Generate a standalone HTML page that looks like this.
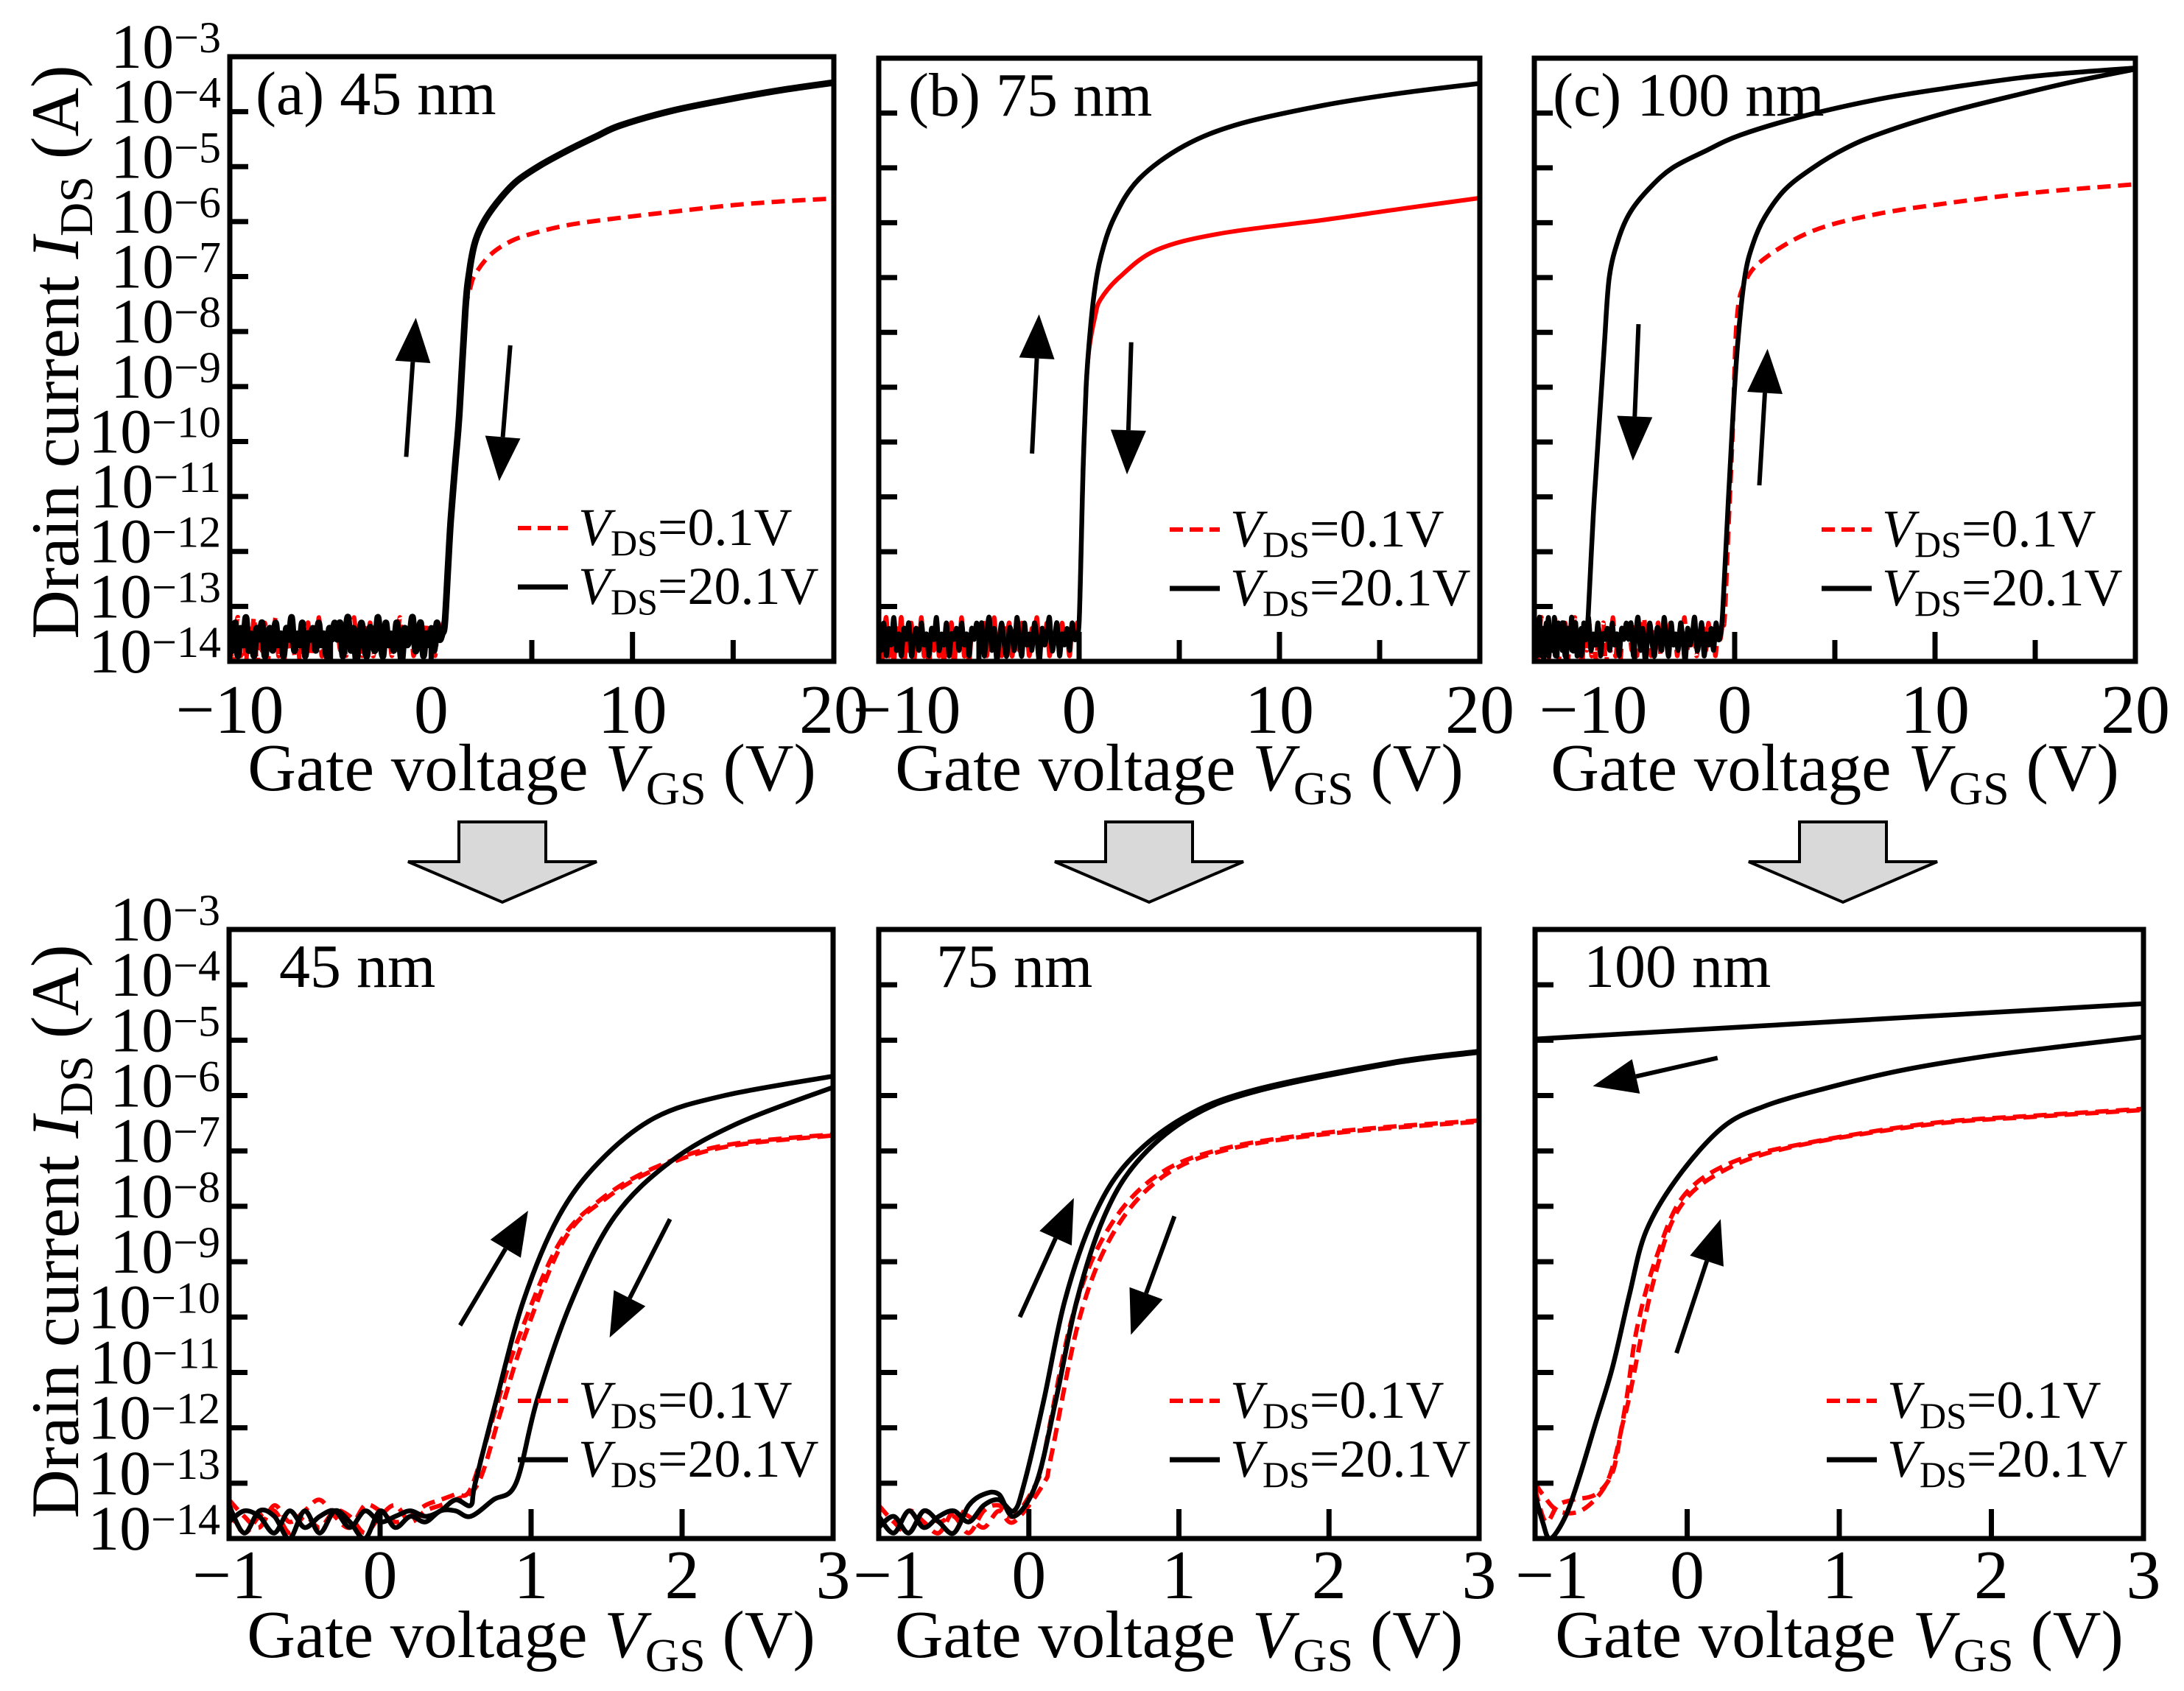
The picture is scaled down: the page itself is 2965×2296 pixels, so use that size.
<!DOCTYPE html>
<html><head><meta charset="utf-8"><style>
html,body{margin:0;padding:0;background:#fff;}
svg{display:block;font-family:"Liberation Serif","Times New Roman",serif;}
</style></head><body>
<svg id="fig" width="2965" height="2296" viewBox="0 0 2965 2296" xmlns="http://www.w3.org/2000/svg">
<defs id="defs"></defs>
<g id="root"></g>
</svg>
<script>
// ---------- data (log10 of drain current vs gate voltage) ----------
const decadeTicks = [-3,-4,-5,-6,-7,-8,-9,-10,-11,-12,-13,-14];
const topXTicks = [-10,0,10,20];
const topXMinor = [-5,5,15];
const botXTicks = [-1,0,1,2,3];

const noiseA = [-13.5,-13.8,-13.3,-13.9,-13.4,-13.7,-13.2,-13.8,-13.5,-13.9,-13.4,-13.6,-13.3,-13.9,-13.6,-13.4,-13.8,-13.3,-13.7,-13.5,-13.9,-13.4,-13.6,-13.2,-13.8,-13.5,-13.7,-13.3,-13.9,-13.5,-13.6,-13.4,-13.8,-13.3,-13.7,-13.5,-13.9,-13.4,-13.6,-13.3];
const noiseB = [-13.3,-14.1,-13.6,-13.2,-13.9,-13.5,-14.0,-13.4,-13.7,-13.2,-14.1,-13.6,-13.8,-13.3,-14.0,-13.5,-13.7,-13.2,-13.9,-13.6,-14.1,-13.4,-13.8,-13.3,-13.9,-13.6,-14.0,-13.4,-13.7,-13.3,-14.1,-13.5,-13.8,-13.2,-13.9,-13.6,-14.0,-13.5,-13.6,-13.4];
const noiseC = [-13.6,-13.3,-13.9,-13.5,-13.2,-13.8,-13.4,-14.0,-13.6,-13.3,-13.7,-13.9,-13.4,-13.5,-13.8,-13.2,-13.6,-13.9,-13.3,-13.7,-13.5,-13.8,-13.3,-13.6,-14.0,-13.4,-13.7,-13.5,-13.2,-13.8,-13.6,-13.3,-13.9,-13.5,-13.7,-13.4,-13.8,-13.3,-13.6,-13.5];

// top (a) 45 nm
const aTopBlackX = [0.68,0.85,0.98,1.2,1.4,1.7,1.9,2.2,2.7,3.5,4.3,5.45,6.8,8.2,9.4,12,15,17.5,20];
const aTopBlackY = [-13.3,-12.2,-11.4,-10.4,-9.5,-7.6,-6.9,-6.35,-5.95,-5.55,-5.25,-4.97,-4.7,-4.45,-4.25,-3.98,-3.76,-3.6,-3.47];
const aTopRedX = [0.7,0.9,1.2,1.4,1.7,1.95,2.2,2.95,4,5.2,7,9.4,12,15,17.5,20];
const aTopRedY = [-13.3,-12.0,-10.4,-9.5,-7.7,-7.2,-6.95,-6.6,-6.35,-6.2,-6.05,-5.93,-5.82,-5.7,-5.63,-5.58];
// top (b) 75 nm
const bTopBlackX = [0.0,0.1,0.2,0.35,0.5,0.75,1.1,1.76,3,5.24,8,12.2,16,20];
const bTopBlackY = [-13.3,-12,-10.5,-9,-8.2,-7.3,-6.6,-5.9,-5.2,-4.6,-4.2,-3.86,-3.64,-3.46];
const bTopRedX = [0.0,0.1,0.2,0.35,0.5,0.8,1.07,2,3.85,7,12.2,16,20];
const bTopRedY = [-13.3,-12,-10.5,-9,-8.3,-7.7,-7.4,-7.0,-6.5,-6.2,-5.95,-5.75,-5.55];
// top (c) 100 nm
const cTopBackX = [-7.3,-7.05,-6.75,-6.5,-6.26,-5.8,-5.2,-4.2,-3.1,-1.5,0.3,3.5,7.3,10.5,14.2,17,20];
const cTopBackY = [-13.1,-11.3,-9.6,-8.2,-7.0,-6.3,-5.8,-5.35,-5.0,-4.7,-4.4,-4.05,-3.74,-3.55,-3.36,-3.26,-3.18];
const cTopFwdX = [-0.6,-0.35,-0.1,0.15,0.5,0.9,1.5,2.5,3.9,5.5,7.3,10.5,14.2,17,20];
const cTopFwdY = [-13.1,-11.3,-9.6,-8.2,-7.0,-6.4,-5.9,-5.4,-5.0,-4.65,-4.37,-4.0,-3.66,-3.42,-3.2];
const cTopRedX = [-0.5,-0.3,-0.1,0.1,0.5,1.5,3.9,7,10.7,15,20];
const cTopRedY = [-13.2,-11.5,-9.8,-7.8,-7.1,-6.65,-6.15,-5.85,-5.64,-5.45,-5.3];

// bottom (a) 45 nm
const aBotBlack1X = [-1,-0.9,-0.8,-0.7,-0.6,-0.5,-0.4,-0.3,-0.2,-0.1,0,0.1,0.2,0.3,0.4,0.5,0.6,0.63,0.77,0.95,1.18,1.45,1.82,2.28,3];
const aBotBlack1Y = [-13.7,-13.5,-13.6,-13.9,-13.5,-13.8,-13.6,-13.5,-13.8,-13.5,-13.7,-13.6,-13.5,-13.6,-13.5,-13.3,-13.4,-13.0,-11.5,-9.7,-8.2,-7.2,-6.4,-6.0,-5.65];
const aBotBlack2X = [-1,-0.9,-0.8,-0.7,-0.6,-0.5,-0.4,-0.3,-0.2,-0.1,0,0.1,0.2,0.3,0.4,0.5,0.6,0.75,0.9,1.04,1.27,1.55,1.92,2.37,3];
const aBotBlack2Y = [-13.4,-13.9,-13.5,-13.6,-14,-13.5,-13.9,-13.5,-13.7,-14,-13.5,-13.8,-13.6,-13.7,-13.5,-13.5,-13.6,-13.3,-13.0,-11.5,-9.7,-8.2,-7.2,-6.5,-5.85];
const aBotRed1X = [-1,-0.9,-0.8,-0.7,-0.6,-0.5,-0.4,-0.3,-0.2,-0.1,0,0.1,0.2,0.3,0.4,0.5,0.6,0.75,0.9,1.18,1.45,1.82,2.28,3];
const aBotRed1Y = [-13.3,-13.6,-13.8,-13.4,-13.7,-13.5,-13.3,-13.6,-13.8,-13.4,-13.5,-13.7,-13.6,-13.4,-13.3,-13.2,-13.1,-11.8,-10.5,-8.7,-7.9,-7.3,-6.9,-6.7];
const aBotRed2X = [-1,-0.9,-0.8,-0.7,-0.6,-0.5,-0.4,-0.3,-0.2,-0.1,0,0.1,0.2,0.3,0.4,0.5,0.65,0.8,0.95,1.22,1.5,1.85,2.3,3];
const aBotRed2Y = [-13.5,-13.9,-13.6,-13.5,-13.9,-13.6,-13.8,-13.5,-13.6,-13.9,-13.6,-13.4,-13.7,-13.5,-13.4,-13.3,-13.0,-11.7,-10.4,-8.6,-7.85,-7.3,-6.92,-6.72];
// bottom (b) 75 nm
const bBotBlack1X = [-1,-0.9,-0.8,-0.7,-0.6,-0.5,-0.4,-0.3,-0.2,-0.1,-0.03,0.1,0.24,0.43,0.66,1.03,1.5,2.42,3];
const bBotBlack1Y = [-13.6,-13.9,-13.5,-13.8,-13.6,-13.5,-13.7,-13.4,-13.3,-13.5,-13.0,-11.5,-9.7,-8.2,-7.2,-6.4,-5.9,-5.4,-5.2];
const bBotBlack2X = [-1,-0.9,-0.8,-0.7,-0.6,-0.5,-0.4,-0.3,-0.2,-0.1,0.05,0.18,0.32,0.5,0.72,1.07,1.52,2.42,3];
const bBotBlack2Y = [-13.8,-13.6,-13.9,-13.5,-13.7,-13.9,-13.4,-13.2,-13.2,-13.6,-13.0,-11.5,-9.7,-8.2,-7.2,-6.4,-5.92,-5.42,-5.22];
const bBotRed1X = [-1,-0.9,-0.8,-0.7,-0.6,-0.5,-0.4,-0.3,-0.2,-0.1,0.05,0.1,0.29,0.52,0.85,1.31,2.05,3];
const bBotRed1Y = [-13.4,-13.7,-13.9,-13.5,-13.7,-13.6,-13.9,-13.5,-13.4,-13.6,-13.0,-12.5,-10,-8.45,-7.45,-6.95,-6.65,-6.45];
const bBotRed2X = [-1,-0.9,-0.8,-0.7,-0.6,-0.5,-0.4,-0.3,-0.2,-0.1,0.1,0.15,0.34,0.57,0.9,1.36,2.1,3];
const bBotRed2Y = [-13.6,-13.9,-13.5,-13.7,-13.9,-13.5,-13.6,-13.8,-13.5,-13.7,-13.0,-12.5,-10,-8.45,-7.45,-6.95,-6.66,-6.47];
// bottom (c) 100 nm
const cBotBackX = [-1,0,1,2,3];
const cBotBackY = [-4.98,-4.82,-4.66,-4.5,-4.34];
const cBotFwdX = [-1,-0.95,-0.9,-0.8,-0.71,-0.6,-0.49,-0.38,-0.27,-0.06,0.23,0.5,0.88,1.4,1.96,2.5,3];
const cBotFwdY = [-13.2,-13.7,-14.0,-13.6,-12.9,-11.9,-10.9,-9.6,-8.45,-7.47,-6.58,-6.2,-5.89,-5.55,-5.29,-5.1,-4.94];
const cBotRed1X = [-1,-0.93,-0.85,-0.75,-0.6,-0.49,-0.43,-0.38,-0.23,-0.06,0.23,0.7,1.6,2.3,3];
const cBotRed1Y = [-13.1,-13.7,-13.4,-13.3,-13.2,-12.8,-12.0,-11.44,-9.45,-8.07,-7.37,-6.92,-6.52,-6.38,-6.26];
const cBotRed2X = [-1,-0.95,-0.85,-0.7,-0.55,-0.47,-0.4,-0.33,-0.2,-0.02,0.3,0.8,1.6,2.3,3];
const cBotRed2Y = [-13.0,-13.2,-13.5,-13.5,-13.1,-12.5,-11.5,-10.2,-8.9,-7.8,-7.2,-6.85,-6.5,-6.36,-6.24];

// ---------- rendering ----------
const NS = "http://www.w3.org/2000/svg";
const root = document.getElementById('root');
const defs = document.getElementById('defs');
function mk(tag, attrs, parent){ const e=document.createElementNS(NS,tag); for(const k in attrs) e.setAttribute(k,attrs[k]); (parent||root).appendChild(e); return e; }
function seq(a,b,n){ const r=[]; for(let i=0;i<n;i++) r.push(a+(b-a)*i/(n-1)); return r; }

const panels = [
 {id:'top-a', L:312,T:77,R:1132,B:898, x0:-10,x1:20, title:'(a) 45 nm', tdx:35, ylab:true, top:true, lx:703},
 {id:'top-b', L:1193,T:79,R:2009,B:898, x0:-10,x1:20, title:'(b) 75 nm', tdx:40, ylab:false, top:true, lx:1588, l0:38},
 {id:'top-c', L:2083,T:79,R:2899,B:898, x0:-10,x1:20, title:'(c) 100 nm', tdx:25, ylab:false, top:true, lx:2473, l0:80},
 {id:'bot-a', L:311,T:1262,R:1131,B:2089, x0:-1,x1:3, title:'45 nm', tdx:68, ylab:true, top:false, lx:703},
 {id:'bot-b', L:1193,T:1262,R:2008,B:2089, x0:-1,x1:3, title:'75 nm', tdx:78, ylab:false, top:false, lx:1588, l0:15},
 {id:'bot-c', L:2084,T:1262,R:2910,B:2089, x0:-1,x1:3, title:'100 nm', tdx:66, ylab:false, top:false, lx:2480, l0:23},
];
panels.forEach(p=>{
  p.x = v => p.L + (v-p.x0)/(p.x1-p.x0)*(p.R-p.L);
  p.y = d => p.T + (-3-d)/11*(p.B-p.T);
});

function pathFrom(p, xs, ys){
  const pts = xs.map((v,i)=>[p.x(v), p.y(ys[i])]);
  let d = 'M'+pts[0][0].toFixed(1)+','+pts[0][1].toFixed(1);
  for(let i=0;i<pts.length-1;i++){
    const p0=pts[Math.max(0,i-1)], p1=pts[i], p2=pts[i+1], p3=pts[Math.min(pts.length-1,i+2)];
    const c1=[p1[0]+(p2[0]-p0[0])/6, p1[1]+(p2[1]-p0[1])/6];
    const c2=[p2[0]-(p3[0]-p1[0])/6, p2[1]-(p3[1]-p1[1])/6];
    d+=' C'+c1[0].toFixed(1)+','+c1[1].toFixed(1)+' '+c2[0].toFixed(1)+','+c2[1].toFixed(1)+' '+p2[0].toFixed(1)+','+p2[1].toFixed(1);
  }
  return d;
}
function withNoise(noise, a, b, xs, ys){ return [seq(a,b,noise.length).concat(xs), noise.concat(ys)]; }
const noiseDense = noiseA.concat(noiseC);
const noiseDenseR = noiseB.concat(noiseA);

const series = {
 'top-a':[
   {n:'red-vds-0.1', d:withNoise(noiseDenseR,-10,0.6,aTopRedX,aTopRedY), red:true},
   {n:'black-vds-20.1', d:withNoise(noiseDense,-10,0.55,aTopBlackX,aTopBlackY), red:false, w:9}],
 'top-b':[
   {n:'red-vds-0.1', d:withNoise(noiseDenseR,-10,-0.1,bTopRedX,bTopRedY), red:true, solid:true},
   {n:'black-vds-20.1', d:withNoise(noiseDense,-10,-0.1,bTopBlackX,bTopBlackY), red:false}],
 'top-c':[
   {n:'red-vds-0.1', d:withNoise(noiseDenseR,-10,-0.6,cTopRedX,cTopRedY), red:true},
   {n:'black-forward', d:withNoise(noiseDense,-10,-0.7,cTopFwdX,cTopFwdY), red:false},
   {n:'black-backward', d:withNoise(noiseC,-10,-7.4,cTopBackX,cTopBackY), red:false}],
 'bot-a':[
   {n:'red-forward', d:[aBotRed1X,aBotRed1Y], red:true},
   {n:'red-backward', d:[aBotRed2X,aBotRed2Y], red:true},
   {n:'black-forward', d:[aBotBlack1X,aBotBlack1Y], red:false},
   {n:'black-backward', d:[aBotBlack2X,aBotBlack2Y], red:false}],
 'bot-b':[
   {n:'red-forward', d:[bBotRed1X,bBotRed1Y], red:true},
   {n:'red-backward', d:[bBotRed2X,bBotRed2Y], red:true},
   {n:'black-forward', d:[bBotBlack1X,bBotBlack1Y], red:false},
   {n:'black-backward', d:[bBotBlack2X,bBotBlack2Y], red:false}],
 'bot-c':[
   {n:'red-forward', d:[cBotRed1X,cBotRed1Y], red:true},
   {n:'red-backward', d:[cBotRed2X,cBotRed2Y], red:true},
   {n:'black-forward', d:[cBotFwdX,cBotFwdY], red:false},
   {n:'black-backward', d:[cBotBackX,cBotBackY], red:false}],
};
const arrows = {
 'top-a':[[-1.24,-10.28,-0.76,-7.75],[3.93,-8.25,3.38,-10.72]],
 'top-b':[[-2.35,-10.21,-2.0,-7.67],[2.6,-8.18,2.39,-10.59]],
 'top-c':[[-4.8,-7.85,-5.08,-10.34],[1.23,-10.79,1.64,-8.3]],
 'bot-a':[[0.53,-10.15,0.98,-8.08],[1.92,-8.23,1.52,-10.37]],
 'bot-b':[[-0.06,-10.0,0.3,-7.85],[0.97,-8.18,0.68,-10.32]],
 'bot-c':[[0.2,-5.32,-0.62,-5.83],[-0.07,-10.65,0.22,-8.23]],
};

panels.forEach(p=>{
  const g = mk('g',{});
  
  
  const cp = mk('clipPath',{id:'clip-'+p.id}, defs);
  mk('rect',{x:p.L,y:p.T,width:p.R-p.L,height:p.B-p.T}, cp);
  const sg = mk('g',{'clip-path':'url(#clip-'+p.id+')'}, g);
  series[p.id].forEach(s=>{
    const e = mk('path',{d:pathFrom(p,s.d[0],s.d[1]), fill:'none', stroke:s.red?'#ff0000':'#000', 'stroke-width':s.w||(s.red?6:6.5), 'stroke-linejoin':'round'}, sg);
    if(s.red && !s.solid) e.setAttribute('stroke-dasharray','18 10');
    
    
  });
  decadeTicks.forEach(d=>{
    if(d>-14 && d<-3){
      const t = mk('line',{x1:p.L,x2:p.L+25,y1:p.y(d),y2:p.y(d),stroke:'#000','stroke-width':7}, g);
      
      
    }
    if(p.ylab){
      const tx = mk('text',{x:p.L-12,y:p.y(d)+15,'text-anchor':'end','font-size':86}, g);
      
      
      tx.textContent='10';
      const ts = mk('tspan',{dy:-21,'font-size':60}, tx);
      ts.textContent = '\u2212'+(-d);
    }
  });
  const majors = p.top ? topXTicks : botXTicks;
  majors.forEach((v,i)=>{
    if(v>p.x0 && v<p.x1){
      const t = mk('line',{x1:p.x(v),x2:p.x(v),y1:p.B,y2:p.B-40,stroke:'#000','stroke-width':7}, g);
      
      
    }
    const off = (i===0 && p.l0) ? p.l0 : 0;
    const tl = mk('text',{x:p.x(v)+off,y:p.top?995:2170,'text-anchor':'middle','font-size':94}, g);
    
    
    tl.textContent = (v<0?'\u2212':'')+Math.abs(v);
  });
  if(p.top) topXMinor.forEach(v=>{
    const t = mk('line',{x1:p.x(v),x2:p.x(v),y1:p.B,y2:p.B-29,stroke:'#000','stroke-width':7}, g);
    
    
  });
  const fr = mk('rect',{x:p.L,y:p.T,width:p.R-p.L,height:p.B-p.T,fill:'none',stroke:'#000','stroke-width':7}, g);
  
  
  const tt = mk('text',{x:p.L+p.tdx,y:p.T+78,'font-size':84}, g);
  
  
  tt.textContent = p.title;
  const xt = mk('text',{x:(p.L+p.R)/2,y:p.top?1073:2250,'text-anchor':'middle','font-size':91}, g);
  
  
  xt.appendChild(document.createTextNode('Gate voltage '));
  const vi = mk('tspan',{'font-style':'italic'}, xt); vi.textContent='V';
  const vs = mk('tspan',{'font-size':64,dy:19}, xt); vs.textContent='GS';
  const vr = mk('tspan',{dy:-19}, xt); vr.textContent=' (V)';
  const ly1 = p.T+640, ly2 = p.T+720;
  [['0.1V',ly1,true],['20.1V',ly2,false]].forEach(([lab,ly,red])=>{
    const ln = mk('line',{x1:p.lx,x2:p.lx+68,y1:ly,y2:ly,stroke:red?'#ff0000':'#000','stroke-width':red?6:7}, g);
    if(red) ln.setAttribute('stroke-dasharray','18 9');
    
    
    const lt = mk('text',{x:p.lx+82,y:ly+23,'font-size':72}, g);
    
    
    const a=mk('tspan',{'font-style':'italic'},lt); a.textContent='V';
    const b=mk('tspan',{'font-size':50,dy:14},lt); b.textContent='DS';
    const c=mk('tspan',{dy:-14},lt); c.textContent='='+lab;
  });
  arrows[p.id].forEach(a=>{
    const x0=p.x(a[0]), y0=p.y(a[1]), x1=p.x(a[2]), y1=p.y(a[3]);
    const dx=x1-x0, dy=y1-y0, len=Math.hypot(dx,dy), ux=dx/len, uy=dy/len;
    const hl=60, hw=24;
    const bx=x1-ux*hl, by=y1-uy*hl;
    const ag = mk('g',{}, g);
    
    
    mk('line',{x1:x0,y1:y0,x2:bx,y2:by,stroke:'#000','stroke-width':6}, ag);
    mk('polygon',{points:`${x1},${y1} ${bx-uy*hw},${by+ux*hw} ${bx+uy*hw},${by-ux*hw}`,fill:'#000'}, ag);
  });
});

[478, 1672].forEach((cy,i)=>{
  const t = mk('text',{x:0,y:0,transform:`translate(106,${cy}) rotate(-90)`,'text-anchor':'middle','font-size':92});
  
  
  t.appendChild(document.createTextNode('Drain current '));
  const a=mk('tspan',{'font-style':'italic'},t); a.textContent='I';
  const b=mk('tspan',{'font-size':64,dy:19},t); b.textContent='DS';
  const c=mk('tspan',{dy:-19},t); c.textContent=' (A)';
});

[682, 1560, 2502].forEach((cx,i)=>{
  const pg = mk('polygon',{points:`${cx-59},1116 ${cx+59},1116 ${cx+59},1170 ${cx+128},1170 ${cx},1225 ${cx-128},1170 ${cx-59},1170`,fill:'#d9d9d9',stroke:'#000','stroke-width':4,'stroke-linejoin':'miter'});
  
  
});
</script>
</body></html>
